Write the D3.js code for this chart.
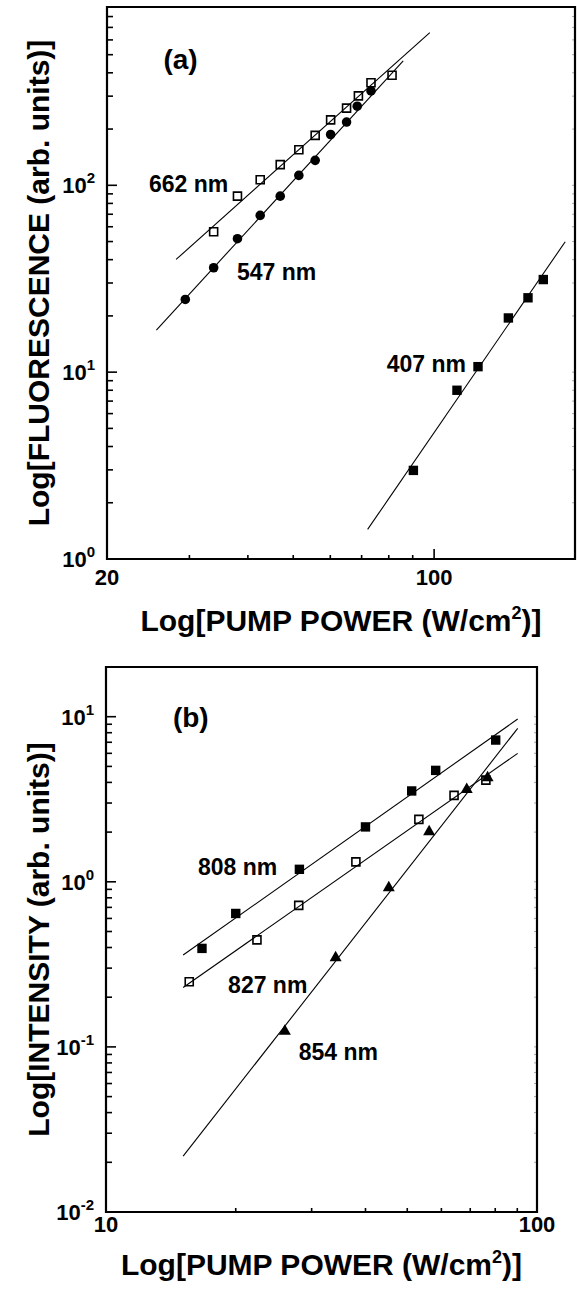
<!DOCTYPE html>
<html>
<head>
<meta charset="utf-8">
<script src="https://cdn.jsdelivr.net/npm/d3@7"></script>
<style>
  body { margin: 0; background: #fff; }
  text { font-family: "Liberation Sans", Arial, sans-serif; font-weight: bold; fill: #000; }
</style>
</head>
<body>
<div id="chart"></div>
<script>
// panel (a): fluorescence vs pump power
const power547 = [29.4, 33.8, 38.0, 42.5, 46.9, 51.4, 55.7, 60.1, 65.0, 68.5, 73.3];
const fluor547 = [24.5, 36.2, 51.8, 69.0, 87.5, 113, 136, 187, 218, 265, 320];
const power662 = [33.8, 38.0, 42.5, 46.9, 51.4, 55.7, 60.1, 65.0, 68.9, 73.3, 81.3];
const fluor662 = [56.4, 87.5, 107, 129, 155, 185, 224, 259, 301, 354, 388];
const power407 = [90.3, 111.9, 124.1, 144.1, 158.7, 171.1];
const fluor407 = [2.98, 8.0, 10.7, 19.5, 25.0, 31.3];
const fit547 = [[25.5, 16.8], [85.9, 463]];
const fit662 = [[28.1, 40.1], [97.9, 657]];
const fit407 = [[72.1, 1.44], [190.6, 49.9]];
const xTicksA = [20, 100];
const yExpA = [0, 1, 2];

// panel (b): intensity vs pump power
const power808 = [16.7, 20.0, 28.1, 40.0, 51.2, 58.2, 80.2];
const int808 = [0.395, 0.643, 1.19, 2.15, 3.55, 4.73, 7.22];
const power827 = [15.6, 22.4, 28.0, 38.0, 53.2, 64.2, 76.1];
const int827 = [0.248, 0.445, 0.72, 1.32, 2.39, 3.34, 4.13];
const power854 = [26.0, 34.1, 45.3, 56.2, 68.7, 76.8];
const int854 = [0.126, 0.351, 0.933, 2.04, 3.68, 4.33];
const fit808 = [[15.1, 0.36], [90.2, 9.68]];
const fit827 = [[15.1, 0.229], [90.2, 6.0]];
const fit854 = [[15.1, 0.0218], [90.2, 8.5]];
const xTicksB = [10, 100];
const yExpB = [-2, -1, 0, 1];

const W = 577, H = 1295;
const svg = d3.select("#chart").append("svg").attr("width", W).attr("height", H);

function zip(xs, ys) { return xs.map((x, i) => [x, ys[i]]); }

const panels = [
  {
    box: { left: 107, right: 575, top: 7, bottom: 559 },
    xDomain: [20, 200], yDomain: [1, 900],
    xTicks: xTicksA, yExp: yExpA, xLabelDy: 26,
    yTitle: "Log[FLUORESCENCE (arb. units)]", xTitleY: 631,
    tag: { text: "(a)", at: [26.4, 418] },
    series: [
      { pts: zip(power662, fluor662), fit: fit662, marker: "openSquare", label: "662 nm", at: [36.3, 91.6], anchor: "end" },
      { pts: zip(power547, fluor547), fit: fit547, marker: "circle", label: "547 nm", at: [37.9, 31.3], anchor: "start" },
      { pts: zip(power407, fluor407), fit: fit407, marker: "square", label: "407 nm", at: [117, 10.07], anchor: "end" }
    ]
  },
  {
    box: { left: 106, right: 537, top: 667, bottom: 1212 },
    xDomain: [10, 100], yDomain: [0.01, 20],
    xTicks: xTicksB, yExp: yExpB, xLabelDy: 20,
    yTitle: "Log[INTENSITY (arb. units)]", xTitleY: 1275,
    tag: { text: "(b)", at: [14.3, 8.66] },
    series: [
      { pts: zip(power808, int808), fit: fit808, marker: "square", label: "808 nm", at: [16.35, 1.10], anchor: "start" },
      { pts: zip(power827, int827), fit: fit827, marker: "openSquare", label: "827 nm", at: [19.2, 0.2116], anchor: "start" },
      { pts: zip(power854, int854), fit: fit854, marker: "triangle", label: "854 nm", at: [28.0, 0.083], anchor: "start" }
    ]
  }
];

panels.forEach(p => {
  const b = p.box;
  const x = d3.scaleLog().domain(p.xDomain).range([b.left, b.right]);
  const y = d3.scaleLog().domain(p.yDomain).range([b.bottom, b.top]);
  const g = svg.append("g");

  // minor + major ticks on left axis (inward)
  const yTicks = y.ticks().filter(v => v >= p.yDomain[0] && v <= p.yDomain[1]);
  yTicks.forEach(v => {
    const major = Math.abs(Math.log10(v) - Math.round(Math.log10(v))) < 1e-9;
    g.append("line").attr("x1", b.left).attr("x2", b.left + (major ? 10 : 6))
      .attr("y1", y(v)).attr("y2", y(v)).attr("stroke", "#000").attr("stroke-width", 1.6);
    g.append("line").attr("x1", b.right).attr("x2", b.right - 3)
      .attr("y1", y(v)).attr("y2", y(v)).attr("stroke", "#aaa").attr("stroke-width", 1);
  });
  const xTicks = x.ticks().filter(v => v > p.xDomain[0] && v < p.xDomain[1]);
  xTicks.forEach(v => {
    const major = p.xTicks.includes(v);
    g.append("line").attr("x1", x(v)).attr("x2", x(v))
      .attr("y1", b.bottom).attr("y2", b.bottom - (major ? 10 : 4))
      .attr("stroke", "#000").attr("stroke-width", 1.6);
  });

  // frame
  g.append("path")
    .attr("d", `M${b.left},${b.top}H${b.right}V${b.bottom}H${b.left}Z`)
    .attr("fill", "none").attr("stroke", "#000").attr("stroke-width", 2.2);

  // tick labels
  p.xTicks.forEach(v => {
    g.append("text").attr("x", x(v)).attr("y", b.bottom + p.xLabelDy)
      .attr("text-anchor", "middle").attr("font-size", 22).text(v);
  });
  p.yExp.forEach(e => {
    const t = g.append("text").attr("x", b.left - 12).attr("y", y(Math.pow(10, e)) + 8)
      .attr("text-anchor", "end").attr("font-size", 22);
    t.append("tspan").text("10");
    t.append("tspan").attr("dy", -10).attr("font-size", 15).text(e);
  });

  // axis titles
  const xt = g.append("text").attr("x", (b.left + b.right) / 2).attr("y", p.xTitleY)
    .attr("text-anchor", "middle").attr("font-size", 30);
  xt.append("tspan").text("Log[PUMP POWER (W/cm");
  xt.append("tspan").attr("dy", -12).attr("font-size", 18).text("2");
  xt.append("tspan").attr("dy", 12).text(")]");
  g.append("text")
    .attr("transform", `translate(49,${(b.top + b.bottom) / 2}) rotate(-90)`)
    .attr("text-anchor", "middle").attr("font-size", 30).text(p.yTitle);

  g.append("text").attr("x", x(p.tag.at[0])).attr("y", y(p.tag.at[1]))
    .attr("font-size", 28).text(p.tag.text);

  const line = d3.line().x(d => x(d[0])).y(d => y(d[1]));

  p.series.forEach(s => {
    g.append("path").attr("d", line(s.fit)).attr("fill", "none")
      .attr("stroke", "#000").attr("stroke-width", 1.1);

    const m = g.append("g").selectAll("path").data(s.pts).enter().append("path")
      .attr("transform", d => `translate(${x(d[0])},${y(d[1])})`);
    if (s.marker === "circle") {
      m.attr("d", d3.symbol(d3.symbolCircle, 72)).attr("fill", "#000");
    } else if (s.marker === "square") {
      m.attr("d", "M-4.7,-4.7H4.7V4.7H-4.7Z").attr("fill", "#000");
    } else if (s.marker === "openSquare") {
      m.attr("d", "M-4,-4H4V4H-4Z").attr("fill", "none").attr("stroke", "#000").attr("stroke-width", 1.6);
    } else {
      m.attr("d", "M0,-6L6,4.5H-6Z").attr("fill", "#000");
    }

    g.append("text").attr("x", x(s.at[0])).attr("y", y(s.at[1]))
      .attr("text-anchor", s.anchor).attr("font-size", 23).text(s.label);
  });
});
</script>
</body>
</html>
